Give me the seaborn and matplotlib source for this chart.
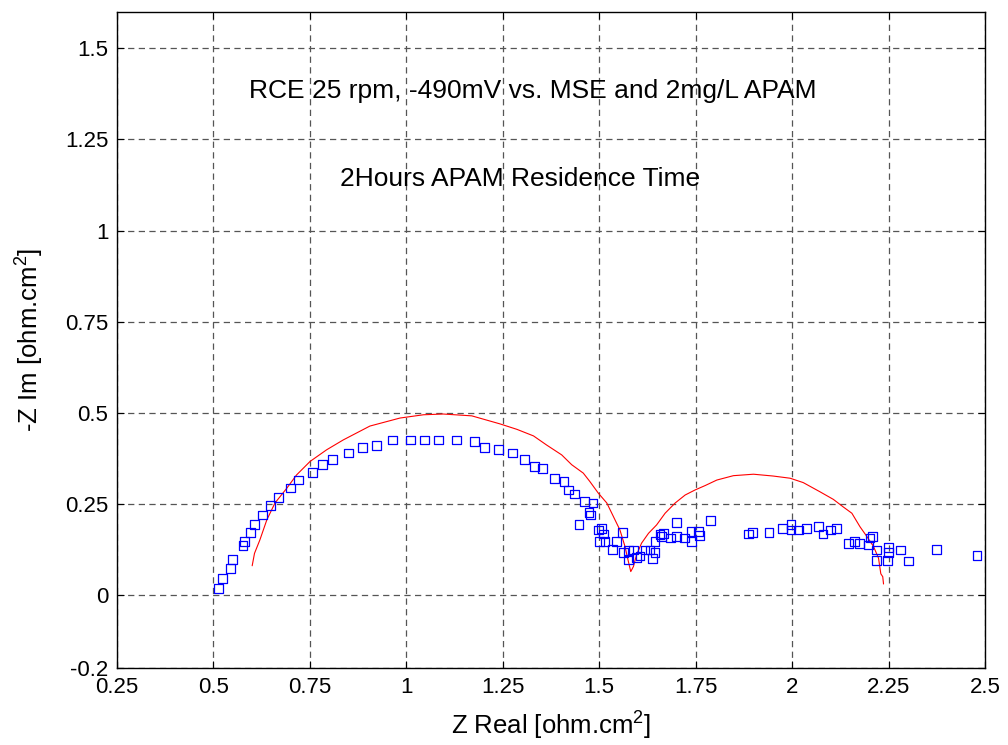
import matplotlib
matplotlib.use("Agg")
import matplotlib.pyplot as plt
import seaborn as sns
import pandas as pd

# Measured EIS data (blue squares)
z_real = [0.513, 0.524, 0.544, 0.550, 0.577, 0.581, 0.596, 0.607, 0.627, 0.648,
          0.669, 0.700, 0.721, 0.757, 0.783, 0.809, 0.851, 0.886, 0.923, 0.964,
          1.012, 1.047, 1.084, 1.131, 1.178, 1.204, 1.240, 1.276, 1.307, 1.333,
          1.354, 1.385, 1.409, 1.421, 1.437, 1.462, 1.484, 1.474, 1.477, 1.448,
          1.507, 1.498, 1.511, 1.500, 1.515, 1.546, 1.561, 1.535, 1.563, 1.576,
          1.576, 1.589, 1.597, 1.606, 1.619, 1.632, 1.645, 1.639, 1.645, 1.658,
          1.666, 1.662, 1.686, 1.701, 1.701, 1.721, 1.738, 1.740, 1.757, 1.761,
          1.789, 1.887, 1.898, 1.940, 1.976, 1.997, 1.997, 2.017, 2.038, 2.069,
          2.080, 2.100, 2.116, 2.146, 2.161, 2.174, 2.198, 2.209, 2.202, 2.218,
          2.219, 2.247, 2.249, 2.249, 2.280, 2.302, 2.375, 2.479]
z_imag = [0.019, 0.047, 0.073, 0.099, 0.136, 0.147, 0.173, 0.194, 0.220, 0.246,
          0.268, 0.294, 0.316, 0.336, 0.358, 0.373, 0.390, 0.405, 0.410, 0.426,
          0.426, 0.426, 0.426, 0.426, 0.421, 0.405, 0.400, 0.390, 0.373, 0.353,
          0.347, 0.321, 0.311, 0.289, 0.278, 0.257, 0.253, 0.227, 0.220, 0.195,
          0.184, 0.179, 0.168, 0.147, 0.147, 0.147, 0.173, 0.126, 0.117, 0.123,
          0.097, 0.124, 0.104, 0.108, 0.124, 0.124, 0.117, 0.100, 0.147, 0.166,
          0.170, 0.161, 0.157, 0.199, 0.161, 0.157, 0.175, 0.147, 0.175, 0.163,
          0.205, 0.168, 0.173, 0.173, 0.184, 0.195, 0.179, 0.179, 0.184, 0.188,
          0.168, 0.179, 0.184, 0.141, 0.147, 0.143, 0.138, 0.161, 0.157, 0.124,
          0.095, 0.095, 0.132, 0.117, 0.124, 0.094, 0.126, 0.110]

# Fitted model curve (red line)
fit_real = [0.601, 0.607, 0.621, 0.639, 0.660, 0.691, 0.716, 0.751, 0.794, 0.837,
            0.906, 0.984, 1.045, 1.096, 1.170, 1.243, 1.287, 1.330, 1.364, 1.403,
            1.429, 1.459, 1.476, 1.498, 1.520, 1.537, 1.554, 1.567, 1.576, 1.582,
            1.589, 1.597, 1.610, 1.628, 1.649, 1.671, 1.697, 1.723, 1.749, 1.775,
            1.805, 1.848, 1.900, 1.951, 1.995, 2.029, 2.072, 2.107, 2.133, 2.155,
            2.176, 2.194, 2.211, 2.224, 2.230, 2.235, 2.237]
fit_imag = [0.081, 0.115, 0.152, 0.207, 0.253, 0.294, 0.330, 0.367, 0.399, 0.426,
            0.464, 0.486, 0.495, 0.497, 0.492, 0.470, 0.455, 0.437, 0.412, 0.385,
            0.358, 0.335, 0.312, 0.280, 0.253, 0.216, 0.179, 0.134, 0.092, 0.065,
            0.079, 0.111, 0.143, 0.170, 0.193, 0.225, 0.253, 0.275, 0.289, 0.301,
            0.316, 0.328, 0.332, 0.327, 0.321, 0.309, 0.284, 0.263, 0.242, 0.225,
            0.188, 0.161, 0.134, 0.102, 0.059, 0.051, 0.031]

x_ticks = [0.25, 0.5, 0.75, 1.0, 1.25, 1.5, 1.75, 2.0, 2.25, 2.5]
x_tick_labels = ["0.25", "0.5", "0.75", "1", "1.25", "1.5", "1.75", "2", "2.25", "2.5"]
y_ticks = [-0.2, 0.0, 0.25, 0.5, 0.75, 1.0, 1.25, 1.5]
y_tick_labels = ["-0.2", "0", "0.25", "0.5", "0.75", "1", "1.25", "1.5"]

title_line1 = "RCE 25 rpm, -490mV vs. MSE and 2mg/L APAM"
title_line2 = "2Hours APAM Residence Time"

sns.set_theme(style="white")
plt.rcParams["font.family"] = ["Liberation Sans", "DejaVu Sans"]
plt.rcParams["mathtext.fontset"] = "custom"
plt.rcParams["mathtext.rm"] = "Liberation Sans"
plt.rcParams["mathtext.it"] = "Liberation Sans"
plt.rcParams["text.color"] = "black"
plt.rcParams["axes.labelcolor"] = "black"

meas = pd.DataFrame({"zr": z_real, "zi": z_imag})
fit = pd.DataFrame({"zr": fit_real, "zi": fit_imag})

fig = plt.figure(figsize=(10.08, 7.45), dpi=100)
ax = fig.add_axes([0.1158, 0.1030, 0.8614, 0.8813])

sns.lineplot(data=fit, x="zr", y="zi", sort=False, estimator=None,
             color="red", linewidth=0.8, ax=ax, zorder=3)
sns.scatterplot(data=meas, x="zr", y="zi", marker="s", s=40,
                facecolor="none", edgecolor="blue", linewidth=0.9,
                ax=ax, zorder=4)

ax.set_xlim(0.25, 2.5)
ax.set_ylim(-0.2, 1.6)
ax.set_xticks(x_ticks)
ax.set_xticklabels(x_tick_labels)
ax.set_yticks(y_ticks)
ax.set_yticklabels(y_tick_labels)

ax.grid(True, color="#555555", linestyle=(0, (5, 3.5)), linewidth=0.9)
ax.set_axisbelow(True)
for sp in ax.spines.values():
    sp.set_color("black")
    sp.set_linewidth(1.0)
ax.tick_params(axis="both", direction="in", length=5, width=0.8,
               labelsize=16, colors="black", top=True, right=True,
               bottom=True, left=True, pad=6)

ax.set_xlabel("Z Real [ohm.cm$^2$]", fontsize=18.5, labelpad=9, color="black")
ax.set_ylabel("-Z Im [ohm.cm$^2$]", fontsize=18.5, labelpad=14, color="black")

ax.text(1.329, 1.383, title_line1, fontsize=19, ha="center", va="center",
        color="black")
ax.text(1.294, 1.142, title_line2, fontsize=19, ha="center", va="center",
        color="black")

fig.savefig("out.png", dpi=100)
